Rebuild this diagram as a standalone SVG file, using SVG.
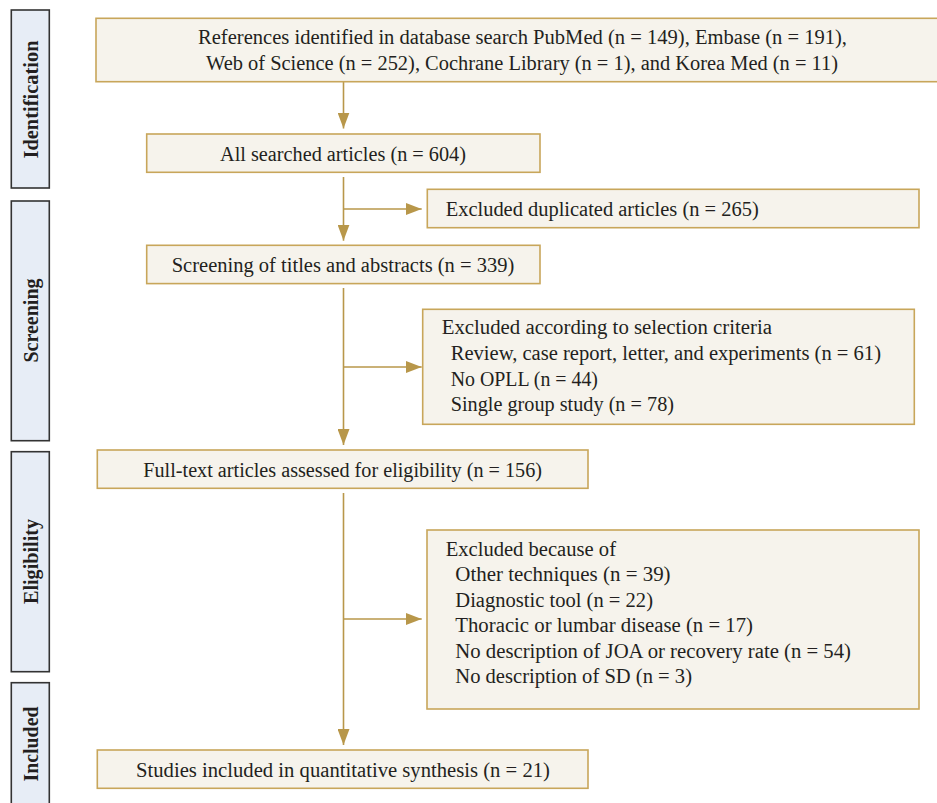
<svg xmlns="http://www.w3.org/2000/svg" width="937" height="803" viewBox="0 0 937 803">
<style>
.node{fill:#f6f3ec;stroke:#c8a65a;stroke-width:1.6}
.side{fill:#e7edf6;stroke:#333333;stroke-width:1.6}
.t{font-family:"Liberation Serif","Times New Roman",serif;font-size:20px;fill:#231f20}
.s{font-family:"Liberation Serif","Times New Roman",serif;font-size:20.5px;font-weight:bold;fill:#231f20}
.c{fill:none;stroke:#b8974a;stroke-width:1.6}
</style>
<defs>
<marker id="ah" markerUnits="userSpaceOnUse" markerWidth="16" markerHeight="12" refX="16" refY="6" orient="auto">
<path d="M0,0 L16,6 L0,12 z" fill="#b8974a"/>
</marker>
</defs>
<rect width="937" height="803" fill="#ffffff"/>
<g id="stage-identification">
<rect class="side" x="11.3" y="10" width="38" height="178"/>
<text class="s" transform="translate(37.5,99.5) rotate(-90)" text-anchor="middle" textLength="118" lengthAdjust="spacingAndGlyphs">Identification</text>
</g>
<g id="stage-screening">
<rect class="side" x="11.3" y="201" width="38" height="239.7"/>
<text class="s" transform="translate(37.5,320.5) rotate(-90)" text-anchor="middle" textLength="84" lengthAdjust="spacingAndGlyphs">Screening</text>
</g>
<g id="stage-eligibility">
<rect class="side" x="11.3" y="451.7" width="38" height="220"/>
<text class="s" transform="translate(37.5,561.5) rotate(-90)" text-anchor="middle" textLength="85" lengthAdjust="spacingAndGlyphs">Eligibility</text>
</g>
<g id="stage-included">
<rect class="side" x="11.3" y="682.7" width="38" height="130"/>
<text class="s" transform="translate(37.5,744) rotate(-90)" text-anchor="middle" textLength="75" lengthAdjust="spacingAndGlyphs">Included</text>
</g>
<g id="connectors">
<line class="c" x1="343.5" y1="82" x2="343.5" y2="128.5" marker-end="url(#ah)"/>
<line class="c" x1="343.5" y1="177" x2="343.5" y2="240.7" marker-end="url(#ah)"/>
<line class="c" x1="343.5" y1="209" x2="421.7" y2="209" marker-end="url(#ah)"/>
<line class="c" x1="343.5" y1="288" x2="343.5" y2="445" marker-end="url(#ah)"/>
<line class="c" x1="343.5" y1="367" x2="421.7" y2="367" marker-end="url(#ah)"/>
<line class="c" x1="343.5" y1="493" x2="343.5" y2="745" marker-end="url(#ah)"/>
<line class="c" x1="343.5" y1="619" x2="421.7" y2="619" marker-end="url(#ah)"/>
</g>
<g id="n-references">
<rect class="node" x="96" y="18.3" width="860" height="63.4"/>
<text class="t" x="198" y="44.3" textLength="649" lengthAdjust="spacingAndGlyphs">References identified in database search PubMed (n = 149), Embase (n = 191),</text>
<text class="t" x="206" y="70.3" textLength="632" lengthAdjust="spacingAndGlyphs">Web of Science (n = 252), Cochrane Library (n = 1), and Korea Med (n = 11)</text>
</g>
<g id="n-all">
<rect class="node" x="146.7" y="134" width="393.3" height="38.3"/>
<text class="t" x="220" y="160.5" textLength="246" lengthAdjust="spacingAndGlyphs">All searched articles (n = 604)</text>
</g>
<g id="n-duplicated">
<rect class="node" x="427.3" y="189.3" width="491.7" height="38.4"/>
<text class="t" x="445.7" y="216" textLength="313" lengthAdjust="spacingAndGlyphs">Excluded duplicated articles (n = 265)</text>
</g>
<g id="n-screening">
<rect class="node" x="146.7" y="245.3" width="393.3" height="38.3"/>
<text class="t" x="171.7" y="271.5" textLength="342.6" lengthAdjust="spacingAndGlyphs">Screening of titles and abstracts (n = 339)</text>
</g>
<g id="n-selection">
<rect class="node" x="422.7" y="309.3" width="491.6" height="115"/>
<text class="t" x="441.7" y="334.3" textLength="330.3" lengthAdjust="spacingAndGlyphs">Excluded according to selection criteria</text>
<text class="t" x="450.7" y="360" textLength="430.3" lengthAdjust="spacingAndGlyphs">Review, case report, letter, and experiments (n = 61)</text>
<text class="t" x="450.7" y="385.7" textLength="147.3" lengthAdjust="spacingAndGlyphs">No OPLL (n = 44)</text>
<text class="t" x="450.7" y="411.3" textLength="223.3" lengthAdjust="spacingAndGlyphs">Single group study (n = 78)</text>
</g>
<g id="n-fulltext">
<rect class="node" x="97.3" y="450" width="490.7" height="38.3"/>
<text class="t" x="143.3" y="476.5" textLength="398.7" lengthAdjust="spacingAndGlyphs">Full-text articles assessed for eligibility (n = 156)</text>
</g>
<g id="n-because">
<rect class="node" x="427" y="530" width="492" height="179"/>
<text class="t" x="445.7" y="555.7" textLength="170.3" lengthAdjust="spacingAndGlyphs">Excluded because of</text>
<text class="t" x="455.3" y="581.2" textLength="215.3" lengthAdjust="spacingAndGlyphs">Other techniques (n = 39)</text>
<text class="t" x="455.3" y="606.7" textLength="197.7" lengthAdjust="spacingAndGlyphs">Diagnostic tool (n = 22)</text>
<text class="t" x="455.3" y="632.2" textLength="297.7" lengthAdjust="spacingAndGlyphs">Thoracic or lumbar disease (n = 17)</text>
<text class="t" x="455.3" y="657.7" textLength="395.7" lengthAdjust="spacingAndGlyphs">No description of JOA or recovery rate (n = 54)</text>
<text class="t" x="455.3" y="683.3" textLength="236.7" lengthAdjust="spacingAndGlyphs">No description of SD (n = 3)</text>
</g>
<g id="n-studies">
<rect class="node" x="97.3" y="750" width="490.7" height="38.3"/>
<text class="t" x="136" y="776.5" textLength="414" lengthAdjust="spacingAndGlyphs">Studies included in quantitative synthesis (n = 21)</text>
</g>
</svg>
